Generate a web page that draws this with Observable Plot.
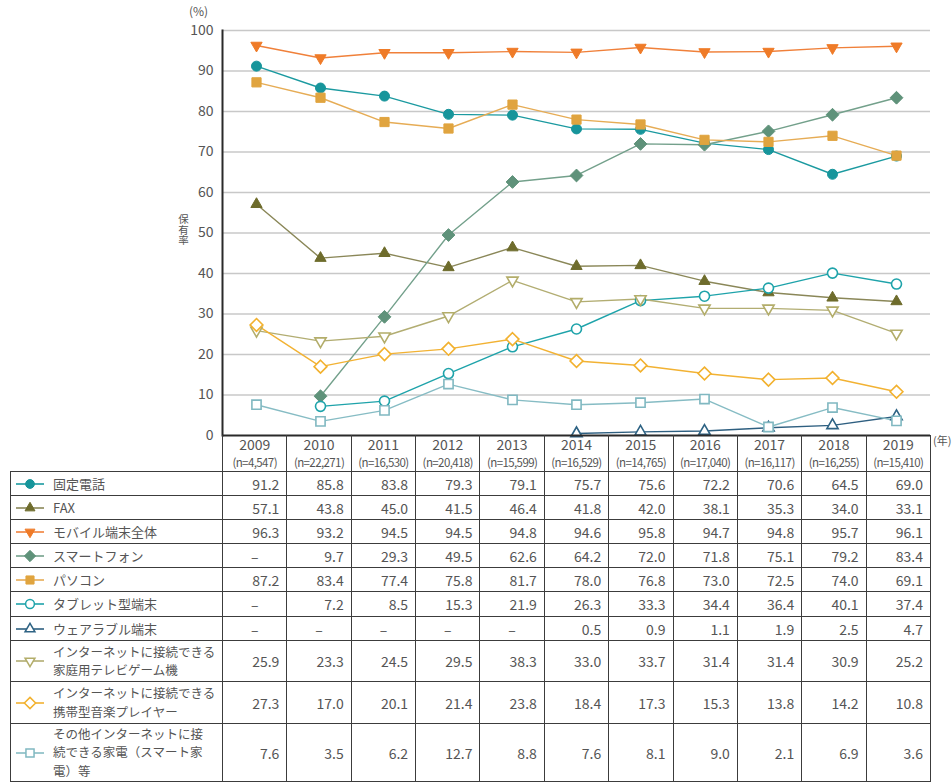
<!DOCTYPE html>
<html>
<head>
<meta charset="utf-8">
<script src="https://cdn.jsdelivr.net/npm/d3@7"></script>
<script src="https://cdn.jsdelivr.net/npm/@observablehq/plot@0.6"></script>
<style>
  html, body { margin: 0; padding: 0; background: #fff; }
  #wrap { position: relative; width: 952px; height: 783px; overflow: hidden; font-family: "Noto Sans CJK JP", "Noto Sans", sans-serif; color: #555; }
  #chart { position: absolute; left: 0; top: 0; }
  .abs { position: absolute; white-space: nowrap; }
  table.data { position: absolute; left: 10px; top: 435px; border-collapse: collapse; table-layout: fixed; width: 920px; color: #555; font-family: "Noto Sans CJK JP", "Noto Sans", sans-serif; }
  table.data td { border: 1.5px solid #3c3c3c; padding: 0 7px 0 0; text-align: right; font-size: 14px; line-height: 18px; vertical-align: middle; }
  table.data tr.head td { border-top: none; text-align: center; padding: 0; height: 36px; }
  table.data tr.head td.blank { border: none; }
  table.data td.lab { text-align: left; padding: 0 0 0 4px; font-size: 13px; }
  table.data td.lab.multi { font-size: 12.5px; line-height: 18.5px; }
  table.data td.dash { text-align: center; padding: 0; }
  .yr { font-size: 14px; line-height: 16px; display: block; margin-top: -2px; }
  .nn { font-size: 11.5px; line-height: 14px; letter-spacing: -0.6px; display: block; margin-top: 3px; white-space: nowrap; }
  .labwrap { display: flex; align-items: center; }
  .labwrap svg { flex: 0 0 auto; margin-right: 8px; }
</style>
</head>
<body>
<div id="wrap">
  <div id="chart"></div>
</div>
<script>
// ---------------- data ----------------
const years = [2009, 2010, 2011, 2012, 2013, 2014, 2015, 2016, 2017, 2018, 2019];
const nLabels = ["(n=4,547)", "(n=22,271)", "(n=16,530)", "(n=20,418)", "(n=15,599)", "(n=16,529)", "(n=14,765)", "(n=17,040)", "(n=16,117)", "(n=16,255)", "(n=15,410)"];
const yTicks = [0, 10, 20, 30, 40, 50, 60, 70, 80, 90, 100];

const seriesNames = [
  "固定電話", "FAX", "モバイル端末全体", "スマートフォン", "パソコン", "タブレット型端末", "ウェアラブル端末",
  "インターネットに接続できる<br>家庭用テレビゲーム機",
  "インターネットに接続できる<br>携帯型音楽プレイヤー",
  "その他インターネットに接<br>続できる家電（スマート家<br>電）等"
];
const fixedPhone = [91.2, 85.8, 83.8, 79.3, 79.1, 75.7, 75.6, 72.2, 70.6, 64.5, 69.0];
const fax        = [57.1, 43.8, 45.0, 41.5, 46.4, 41.8, 42.0, 38.1, 35.3, 34.0, 33.1];
const mobileAll  = [96.3, 93.2, 94.5, 94.5, 94.8, 94.6, 95.8, 94.7, 94.8, 95.7, 96.1];
const smartphone = [null, 9.7, 29.3, 49.5, 62.6, 64.2, 72.0, 71.8, 75.1, 79.2, 83.4];
const pc         = [87.2, 83.4, 77.4, 75.8, 81.7, 78.0, 76.8, 73.0, 72.5, 74.0, 69.1];
const tablet     = [null, 7.2, 8.5, 15.3, 21.9, 26.3, 33.3, 34.4, 36.4, 40.1, 37.4];
const wearable   = [null, null, null, null, null, 0.5, 0.9, 1.1, 1.9, 2.5, 4.7];
const gameConsole= [25.9, 23.3, 24.5, 29.5, 38.3, 33.0, 33.7, 31.4, 31.4, 30.9, 25.2];
const musicPlayer= [27.3, 17.0, 20.1, 21.4, 23.8, 18.4, 17.3, 15.3, 13.8, 14.2, 10.8];
const otherHome  = [7.6, 3.5, 6.2, 12.7, 8.8, 7.6, 8.1, 9.0, 2.1, 6.9, 3.6];
const seriesValues = [fixedPhone, fax, mobileAll, smartphone, pc, tablet, wearable, gameConsole, musicPlayer, otherHome];

// ---------------- styles ----------------
const FONT = '"Noto Sans CJK JP", "Noto Sans", sans-serif';
const styles = [
  {line: "#1b9aa0", color: "#17959b", shape: "circle",   open: false},
  {line: "#8a8758", color: "#6e6c2c", shape: "triUp",    open: false},
  {line: "#f0803a", color: "#ef7b28", shape: "triDown",  open: false},
  {line: "#73a08b", color: "#5f927a", shape: "diamond",  open: false},
  {line: "#e6ac55", color: "#e0a43f", shape: "square",   open: false},
  {line: "#1ea3aa", color: "#1ea3aa", shape: "circle",   open: true},
  {line: "#2e5f80", color: "#2e6384", shape: "triUp",    open: true},
  {line: "#b2ad72", color: "#b3ad6a", shape: "triDown",  open: true},
  {line: "#f2b233", color: "#f2b12e", shape: "diamond",  open: true},
  {line: "#86bcc4", color: "#80b8c1", shape: "square",   open: true}
];

// custom symbol types (d3 symbol-type interface); size = pi r^2
function shapePath(ctx, shape, r) {
  if (shape === "circle") { ctx.moveTo(r, 0); ctx.arc(0, 0, r, 0, 2 * Math.PI); }
  else if (shape === "square") { const h = r * 0.92; ctx.moveTo(-h, -h); ctx.lineTo(h, -h); ctx.lineTo(h, h); ctx.lineTo(-h, h); ctx.closePath(); }
  else if (shape === "diamond") { const h = r * 1.28; ctx.moveTo(0, -h); ctx.lineTo(h, 0); ctx.lineTo(0, h); ctx.lineTo(-h, 0); ctx.closePath(); }
  else if (shape === "triUp") { const R = r * 1.3; ctx.moveTo(0, -R); ctx.lineTo(R * 0.866, R * 0.5); ctx.lineTo(-R * 0.866, R * 0.5); ctx.closePath(); }
  else if (shape === "triDown") { const R = r * 1.3; ctx.moveTo(0, R); ctx.lineTo(R * 0.866, -R * 0.5); ctx.lineTo(-R * 0.866, -R * 0.5); ctx.closePath(); }
}
function makeSymbol(shape) {
  return { draw(ctx, size) { shapePath(ctx, shape, Math.sqrt(size / Math.PI)); } };
}

// ---------------- plot ----------------
const records = [];
seriesValues.forEach((vals, s) => {
  vals.forEach((v, i) => { if (v != null) records.push({series: s, year: years[i], value: v}); });
});

const lineMarks = styles.map((st, s) =>
  Plot.line(records.filter(d => d.series === s), {x: "year", y: "value", stroke: st.line, strokeWidth: 1.4})
);
const dotMarks = styles.map((st, s) =>
  Plot.dot(records.filter(d => d.series === s), {
    x: "year", y: "value", r: 5,
    symbol: makeSymbol(st.shape),
    fill: st.open ? "white" : st.color,
    stroke: st.color,
    strokeWidth: st.open ? 1.6 : 1
  })
);

const chart = Plot.plot({
  width: 952,
  height: 437,
  marginLeft: 222,
  marginRight: 22,
  marginTop: 30,
  marginBottom: 2,
  style: {fontFamily: FONT, fontSize: "14px", color: "#555", background: "transparent", overflow: "visible"},
  x: {type: "point", domain: years, padding: 0.5, axis: null},
  y: {domain: [0, 100], ticks: yTicks, tickSize: 0, tickPadding: 9, label: null, tickFormat: d => String(d)},
  marks: [
    Plot.ruleY(yTicks.filter(d => d > 0), {stroke: "#c8c8c8", strokeWidth: 1.5}),
    ...lineMarks,
    ...dotMarks,
    Plot.ruleY([0], {stroke: "#2a2a2a", strokeWidth: 2}),
    Plot.frame({anchor: "left", stroke: "#2a2a2a", strokeWidth: 2})
  ]
});
document.getElementById("chart").appendChild(chart);

// ---------------- annotations ----------------
const wrap = document.getElementById("wrap");
function addText(html, css) {
  const d = document.createElement("div");
  d.className = "abs";
  d.innerHTML = html;
  Object.assign(d.style, css);
  wrap.appendChild(d);
}
addText("(%)", {left: "189px", top: "3px", fontSize: "12px", lineHeight: "16px", color: "#555"});
addText("保有率", {left: "177px", top: "214px", fontSize: "10.5px", color: "#555", writingMode: "vertical-rl", lineHeight: "12px"});
addText("(年)", {left: "933px", top: "432px", fontSize: "11px", color: "#555"});

// ---------------- table ----------------
function iconSVG(st) {
  const p = d3.path();
  shapePath(p, st.shape, 4.4);
  return `<svg width="30" height="14" viewBox="0 0 30 14">
    <line x1="1" y1="7" x2="29" y2="7" stroke="${st.line}" stroke-width="1.6"/>
    <path transform="translate(15,7)" d="${p.toString()}" fill="${st.open ? "white" : st.color}" stroke="${st.color}" stroke-width="${st.open ? 1.5 : 1}"/>
  </svg>`;
}
const rowHeights = [24, 24, 24, 24, 24, 25, 24, 41, 42, 58];
const colW = 708 / years.length;
let html = `<table class="data"><colgroup><col style="width:212px">${years.map(() => `<col style="width:${colW}px">`).join("")}</colgroup>`;
html += `<tr class="head"><td class="blank"></td>${years.map((y, i) => `<td><span class="yr">${y}</span><span class="nn">${nLabels[i]}</span></td>`).join("")}</tr>`;
seriesNames.forEach((name, s) => {
  const multi = name.includes("<br>");
  html += `<tr style="height:${rowHeights[s]}px"><td class="lab${multi ? " multi" : ""}"><div class="labwrap">${iconSVG(styles[s])}<span>${name}</span></div></td>`;
  html += seriesValues[s].map(v => v == null ? `<td class="dash">–</td>` : `<td>${v.toFixed(1)}</td>`).join("");
  html += `</tr>`;
});
html += `</table>`;
wrap.insertAdjacentHTML("beforeend", html);
</script>
</body>
</html>
